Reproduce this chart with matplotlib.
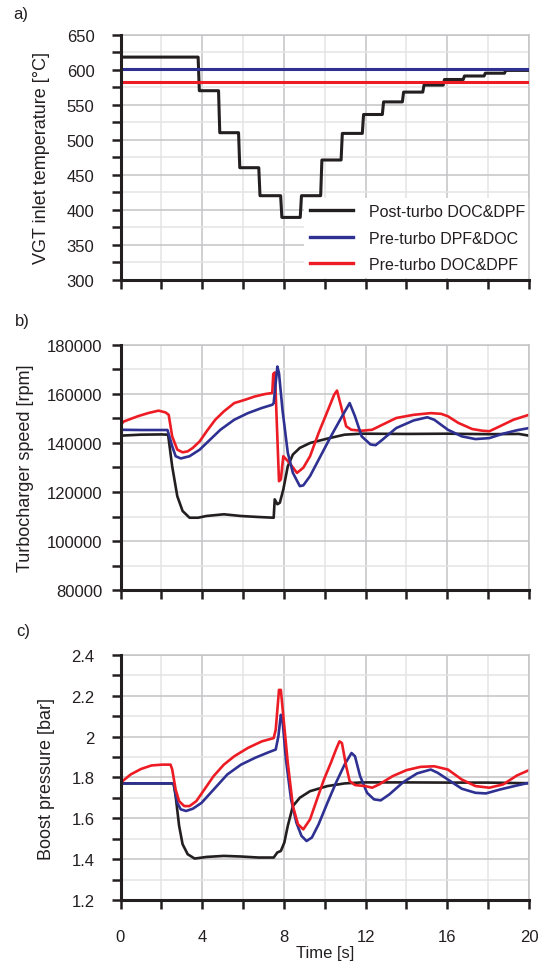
import numpy as np
import matplotlib.pyplot as plt
from matplotlib.ticker import MultipleLocator

plt.rcParams['font.family'] = ['Liberation Sans', 'DejaVu Sans']
plt.rcParams['text.color'] = '#231f20'
plt.rcParams['axes.labelcolor'] = '#231f20'
plt.rcParams['xtick.color'] = '#231f20'
plt.rcParams['ytick.color'] = '#231f20'

BLACK = '#231f20'
BLUE = '#2e3192'
RED = '#ed1c24'

LABELS = ['Post-turbo DOC&DPF', 'Pre-turbo DPF&DOC', 'Pre-turbo DOC&DPF']

# a) VGT inlet temperature [degC]
t_temp_post = [0, 3.8, 3.86, 4.8, 4.86, 5.78, 5.84, 6.77, 6.83, 7.84, 7.9, 8.8, 8.86,
               9.8, 9.86, 10.8, 10.86, 11.84, 11.9, 12.82, 12.88, 13.8, 13.86, 14.8,
               14.86, 15.8, 15.86, 16.78, 16.84, 17.8, 17.86, 18.8, 18.86, 20]
temp_post = [618, 618, 570, 570, 510, 510, 460, 460, 420, 420, 389, 389, 420,
             420, 471, 471, 509, 509, 536, 536, 554, 554, 568, 568,
             578, 578, 586, 586, 591, 591, 595, 595, 599, 599]
t_temp_pre = [0, 20]
temp_pre_dpf_doc = [600.5, 600.5]
temp_pre_doc_dpf = [583, 583]

# b) Turbocharger speed [rpm]
t_spd_post = [0, 1.0, 2.0, 2.33, 2.53, 2.78, 3.04, 3.38, 3.8, 4.2, 5.06, 5.9, 6.75, 7.5,
              7.55, 7.68, 7.8, 7.97, 8.19, 8.44, 8.78, 9.28, 10.13, 10.97, 11.8, 14,
              16, 18, 19.5, 20]
spd_post = [143000, 143400, 143500, 143400, 130500, 118300, 112250, 109500, 109500,
            110200, 110900, 110200, 109800, 109500, 117000, 115000, 115600, 121000,
            130500, 135300, 138000, 140000, 141800, 143400, 143800, 143700, 143800,
            143600, 143700, 143000]
t_spd_dpf_doc = [0, 1.0, 2.3, 2.53, 2.7, 2.95, 3.38, 3.88, 4.39, 4.89, 5.57, 6.24,
                 6.92, 7.43, 7.5, 7.68, 7.76, 7.93, 8.19, 8.44, 8.78, 8.95, 9.28, 9.79,
                 10.3, 10.8, 11.22, 11.48, 11.81, 12.24, 12.49, 12.83, 13.5, 14.35,
                 15.02, 15.36, 16.03, 16.71, 17.38, 18.06, 18.73, 19.41, 20]
spd_dpf_doc = [145400, 145300, 145300, 138700, 134600, 133700, 134600, 137300, 141400,
               145400, 149500, 152200, 154300, 155600, 156300, 171200, 168500, 153600,
               136000, 127800, 122400, 122700, 126500, 134600, 142700, 150200, 156300,
               150900, 142700, 139400, 139100, 141400, 146100, 149200, 150500, 149500,
               145400, 142700, 141600, 142000, 143800, 145200, 146100]
t_spd_doc_dpf = [0, 0.17, 0.84, 1.35, 1.86, 2.2, 2.36, 2.53, 2.78, 3.04, 3.29, 3.54,
                 3.88, 4.22, 4.64, 5.06, 5.57, 6.08, 6.58, 7.09, 7.43, 7.48, 7.56, 7.76,
                 7.85, 7.97, 8.27, 8.64, 8.95, 9.28, 9.7, 10.13, 10.46, 10.6, 10.8,
                 11.05, 11.3, 11.8, 12.32, 12.83, 13.5, 14.35, 15.19, 15.7, 16.03,
                 16.54, 17.22, 17.72, 18.06, 18.57, 19.24, 19.92, 20]
spd_doc_dpf = [147500, 148800, 150900, 152200, 153200, 152500, 151500, 142700, 137300,
               136200, 136600, 138000, 140700, 144800, 149500, 152900, 156300, 157600,
               159000, 160000, 160400, 168200, 168800, 124400, 125100, 134600, 131900,
               127800, 129900, 134600, 144100, 152900, 159700, 161400, 154900, 146800,
               145400, 145000, 145400, 147500, 150200, 151500, 152200, 151900, 150900,
               148200, 145700, 145000, 144800, 146800, 149500, 151300, 151500]

# c) Boost pressure [bar]
t_bp_post = [0, 2.6, 2.7, 2.87, 3.04, 3.29, 3.63, 4.22, 5.06, 5.9, 6.75, 7.5, 7.68,
             7.85, 8.02, 8.19, 8.44, 8.78, 9.28, 10.13, 10.97, 11.81, 14, 16, 18, 20]
bp_post = [1.771, 1.771, 1.709, 1.563, 1.473, 1.424, 1.403, 1.411, 1.416, 1.413, 1.408,
           1.408, 1.433, 1.44, 1.481, 1.563, 1.66, 1.701, 1.733, 1.758, 1.771, 1.776,
           1.776, 1.775, 1.775, 1.772]
t_bp_dpf_doc = [0, 2.6, 2.78, 2.95, 3.21, 3.54, 3.97, 4.56, 5.23, 5.9, 6.58, 7.26, 7.6,
                7.73, 7.85, 7.93, 8.1, 8.35, 8.61, 8.86, 9.11, 9.37, 9.7, 10.13, 10.55,
                10.97, 11.31, 11.48, 11.73, 12.07, 12.41, 12.74, 13.16, 13.84, 14.52,
                15.19, 15.53, 16.03, 16.71, 17.38, 17.89, 18.57, 19.41, 20]
bp_dpf_doc = [1.771, 1.771, 1.676, 1.644, 1.636, 1.647, 1.676, 1.741, 1.815, 1.863,
              1.896, 1.924, 1.937, 2.002, 2.107, 2.083, 1.888, 1.693, 1.579, 1.514,
              1.489, 1.506, 1.571, 1.676, 1.774, 1.863, 1.92, 1.904, 1.807, 1.725,
              1.693, 1.688, 1.717, 1.777, 1.82, 1.839, 1.823, 1.79, 1.745, 1.725,
              1.722, 1.741, 1.761, 1.774]
t_bp_doc_dpf = [0, 0.5, 1.01, 1.52, 2.03, 2.45, 2.53, 2.7, 2.87, 3.12, 3.38, 3.71, 4.05,
                4.56, 5.06, 5.57, 6.24, 6.92, 7.5, 7.6, 7.76, 7.85, 8.02, 8.19, 8.44,
                8.69, 8.95, 9.28, 9.62, 9.96, 10.3, 10.55, 10.72, 10.84, 11.05, 11.22,
                11.48, 11.98, 12.32, 12.66, 13.33, 14.0, 14.68, 15.36, 16.03, 16.71,
                17.38, 18.06, 18.73, 19.41, 20]
bp_doc_dpf = [1.774, 1.815, 1.842, 1.859, 1.863, 1.863, 1.84, 1.741, 1.684, 1.66, 1.66,
              1.684, 1.733, 1.807, 1.863, 1.904, 1.945, 1.977, 1.993, 2.034, 2.229,
              2.229, 2.05, 1.872, 1.66, 1.571, 1.546, 1.595, 1.693, 1.79, 1.872, 1.937,
              1.977, 1.969, 1.855, 1.782, 1.763, 1.758, 1.75, 1.766, 1.807, 1.836,
              1.852, 1.855, 1.839, 1.79, 1.758, 1.75, 1.766, 1.81, 1.836]

W, H = 540, 970
fig = plt.figure(figsize=(W / 100, H / 100), dpi=100)


def make_axes(top_px, ylim, ymajor, yminor, ylabel, label_x, tag, tag_x, tag_y,
              ypad, show_x):
    left, right, height = 120.5, 529, 245
    ax = fig.add_axes([left / W, 1 - (top_px + height) / H, (right - left) / W, height / H])
    ax.set_xlim(0, 20)
    ax.set_ylim(*ylim)
    ax.xaxis.set_major_locator(MultipleLocator(4))
    ax.xaxis.set_minor_locator(MultipleLocator(2))
    ax.yaxis.set_major_locator(MultipleLocator(ymajor))
    ax.yaxis.set_minor_locator(MultipleLocator(yminor))
    ax.grid(which='major', color='#c4c4c6', lw=1.1)
    ax.grid(which='minor', color='#e4e4e6', lw=1.1)
    ax.set_axisbelow(True)
    for s in ('top', 'right'):
        ax.spines[s].set_color('#c4c4c6')
        ax.spines[s].set_linewidth(1.1)
    for s in ('left', 'bottom'):
        ax.spines[s].set_color(BLACK)
        ax.spines[s].set_linewidth(2.2)
        ax.spines[s].set_zorder(5)
    ax.tick_params(which='both', direction='out', length=6.8, width=1.8, color=BLACK)
    ax.tick_params(axis='y', which='both', labelsize=12, pad=ypad)
    ax.tick_params(axis='x', which='both', labelsize=12, pad=14)
    if not show_x:
        ax.tick_params(axis='x', labelbottom=False)
    fig.text(label_x / W, 1 - (top_px + height / 2) / H, ylabel, rotation=90,
             ha='center', va='center', fontsize=13)
    fig.text(tag_x / W, 1 - tag_y / H, tag, ha='left', va='center', fontsize=12)
    return ax


ax_a = make_axes(35.7, (300, 650), 50, 25, 'VGT inlet temperature [\u00b0C]', 41.5,
                 'a)', 13.5, 15, 12, False)
ax_a.plot(t_temp_post, temp_post, color=BLACK, lw=2.2, label=LABELS[0], zorder=3)
ax_a.plot(t_temp_pre, temp_pre_dpf_doc, color=BLUE, lw=2.2, label=LABELS[1], zorder=3)
ax_a.plot(t_temp_pre, temp_pre_doc_dpf, color=RED, lw=2.2, label=LABELS[2], zorder=3)
# white legend box sits over the grid but under the curves
leg = ax_a.legend(loc='upper left', bbox_to_anchor=(0.448, 0.335), borderaxespad=0,
                  fontsize=11.5, frameon=True, fancybox=False, framealpha=1,
                  edgecolor='white', handlelength=2.7, handletextpad=1.0,
                  borderpad=0.4, labelspacing=0.72)
leg.get_frame().set_linewidth(0)
leg.set_zorder(2)
for ln in leg.get_lines():
    ln.set_linewidth(2.4)

ax_b = make_axes(346, (80000, 180000), 20000, 10000, 'Turbocharger speed [rpm]', 26,
                 'b)', 15, 321.5, 6, False)
ax_b.plot(t_spd_post, spd_post, color=BLACK, lw=1.9)
ax_b.plot(t_spd_doc_dpf, spd_doc_dpf, color=RED, lw=1.9)
ax_b.plot(t_spd_dpf_doc, spd_dpf_doc, color=BLUE, lw=1.9)

ax_c = make_axes(656, (1.2, 2.4), 0.2, 0.1, 'Boost pressure [bar]', 46.5,
                 'c)', 16, 631.5, 12, True)
ax_c.plot(t_bp_post, bp_post, color=BLACK, lw=1.9)
ax_c.plot(t_bp_dpf_doc, bp_dpf_doc, color=BLUE, lw=1.9)
ax_c.plot(t_bp_doc_dpf, bp_doc_dpf, color=RED, lw=1.9)
ax_c.yaxis.set_major_formatter(lambda v, p: f'{v:g}')
ax_c.set_xlabel('Time [s]', fontsize=12, labelpad=1)

fig.savefig('out.png', dpi=100)
